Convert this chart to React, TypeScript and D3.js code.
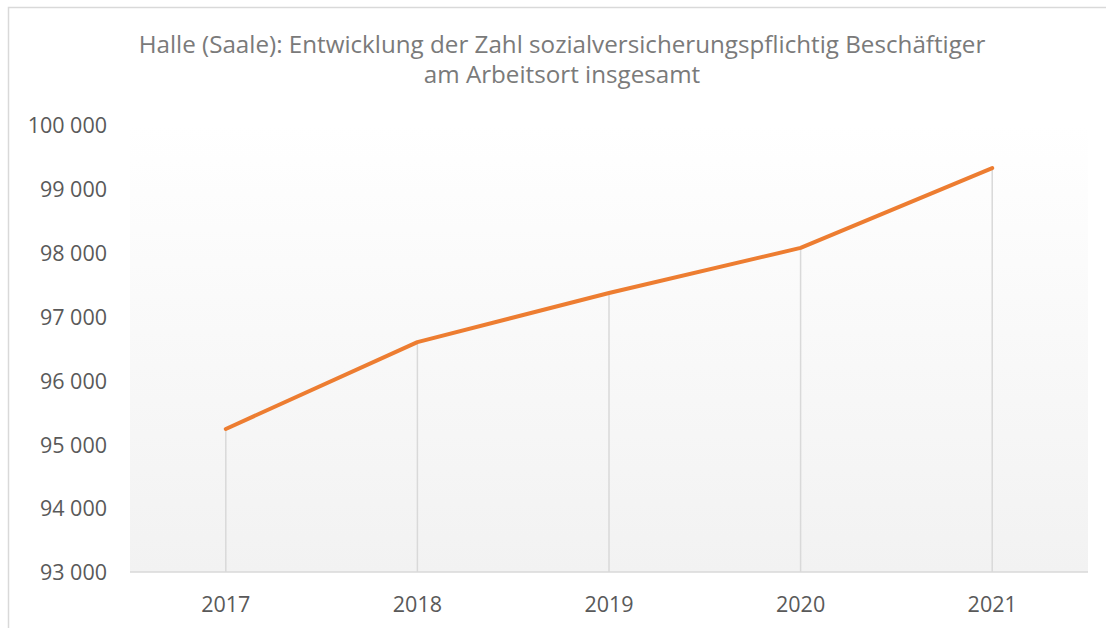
import { useRef, useEffect } from 'react'
import * as d3 from 'd3'

const years = ['2017', '2018', '2019', '2020', '2021']
const employees = [95240, 96600, 97370, 98075, 99325]
const yTicks = [93000, 94000, 95000, 96000, 97000, 98000, 99000, 100000]
const titleLines = [
  'Halle (Saale): Entwicklung der Zahl sozialversicherungspflichtig Beschäftiger',
  'am Arbeitsort insgesamt',
]

const W = 1106
const H = 628
const FONT = '"Open Sans", sans-serif'

export default function App() {
  const svgRef = useRef<SVGSVGElement>(null)

  useEffect(() => {
    if (!svgRef.current) return
    const svg = d3.select(svgRef.current)
    svg.selectAll('*').remove()

    const plot = { left: 130, right: 1088, top: 125, bottom: 572 }

    const x = d3.scaleBand<string>().domain(years).range([plot.left, plot.right])
    const y = d3.scaleLinear().domain([93000, 100000]).range([plot.bottom, plot.top])

    // gradient for the plot area
    const grad = svg.append('defs').append('linearGradient')
      .attr('id', 'plotGrad')
      .attr('x1', 0).attr('y1', 0).attr('x2', 0).attr('y2', 1)
    grad.append('stop').attr('offset', '0%').attr('stop-color', '#ffffff')
    grad.append('stop').attr('offset', '100%').attr('stop-color', '#f2f2f2')

    svg.append('rect')
      .attr('x', 0).attr('y', 0).attr('width', W).attr('height', H)
      .attr('fill', '#ffffff')

    // chart border (runs off the picture right and bottom)
    svg.append('rect')
      .attr('x', 8.5).attr('y', 7.5).attr('width', W + 20).attr('height', H + 20)
      .attr('fill', 'none').attr('stroke', '#d9d9d9').attr('stroke-width', 1.5)

    svg.append('rect')
      .attr('x', plot.left).attr('y', plot.top)
      .attr('width', plot.right - plot.left).attr('height', plot.bottom - plot.top)
      .attr('fill', 'url(#plotGrad)')

    // title
    svg.append('text')
      .attr('x', 562).attr('y', 53)
      .attr('text-anchor', 'middle')
      .attr('font-family', FONT).attr('font-size', 24.2)
      .attr('fill', '#7a7a7a')
      .selectAll('tspan')
      .data(titleLines)
      .join('tspan')
      .attr('x', 562)
      .attr('dy', (_, i) => (i === 0 ? 0 : 30))
      .text((d) => d)

    // y labels
    const yAxis = d3.axisLeft(y).tickValues(yTicks).tickSize(0).tickPadding(0)
      .tickFormat((d) => d3.format(',')(d as number).replace(/,/g, ' '))
    svg.append('g')
      .attr('transform', `translate(107,0)`)
      .call(yAxis)
      .call((g) => g.select('.domain').remove())
      .call((g) => g.selectAll('.tick text')
        .attr('fill', '#595959').attr('font-size', 21.5).attr('font-family', FONT)
        .attr('dy', '0.36em'))

    // drop lines
    svg.append('g')
      .selectAll('line')
      .data(employees)
      .join('line')
      .attr('x1', (_, i) => x(years[i])! + x.bandwidth() / 2)
      .attr('x2', (_, i) => x(years[i])! + x.bandwidth() / 2)
      .attr('y1', (d) => y(d))
      .attr('y2', plot.bottom)
      .attr('stroke', '#d9d9d9').attr('stroke-width', 1.5)

    // x axis
    const xAxis = d3.axisBottom(x).tickSize(0).tickPadding(0)
    svg.append('g')
      .attr('transform', `translate(0,${plot.bottom})`)
      .call(xAxis)
      .call((g) => g.select('.domain')
        .attr('stroke', '#d9d9d9').attr('stroke-width', 1.5)
        .attr('d', `M${plot.left},0H${plot.right}`))
      .call((g) => g.selectAll('.tick text')
        .attr('fill', '#595959').attr('font-size', 21.5).attr('font-family', FONT)
        .attr('dy', 0).attr('y', 40))

    const line = d3.line<number>()
      .x((_, i) => x(years[i])! + x.bandwidth() / 2)
      .y((d) => y(d))

    svg.append('path')
      .datum(employees)
      .attr('d', line)
      .attr('fill', 'none')
      .attr('stroke', '#ed7d31')
      .attr('stroke-width', 4)
      .attr('stroke-linecap', 'round')
      .attr('stroke-linejoin', 'round')
  }, [])

  return (
    <div style={{ position: 'absolute', left: 0, top: 0 }}>
      <svg ref={svgRef} width={W} height={H} style={{ display: 'block' }} />
    </div>
  )
}
